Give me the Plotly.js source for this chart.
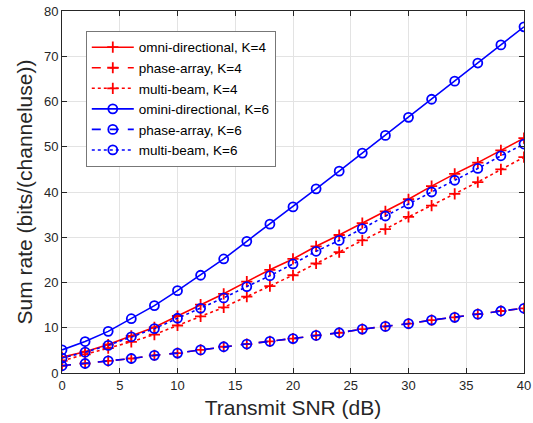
<!DOCTYPE html>
<html><head><meta charset="utf-8">
<script src="https://cdn.plot.ly/plotly-3.0.1.min.js"></script>
<style>html,body{margin:0;padding:0;background:#fff}#chart{width:533px;height:423px}</style>
</head><body><div id="chart"></div>
<script>
const snr = [0,2,4,6,8,10,12,14,16,18,20,22,24,26,28,30,32,34,36,38,40];
const omniK4 = [3.5,4.7,6.3,8.2,10.1,12.6,15.1,17.5,20.2,22.8,25.2,28.0,30.5,33.1,35.7,38.4,41.3,44.0,46.5,49.2,51.9];
const phaseK4 = [1.6,2.1,2.7,3.2,3.9,4.4,5.1,5.8,6.4,7.0,7.6,8.3,8.9,9.7,10.3,10.9,11.7,12.3,13.0,13.7,14.3];
const multiK4 = [2.7,4.1,5.5,6.9,8.5,10.5,12.5,14.5,16.9,19.2,21.6,24.2,26.7,29.3,31.8,34.5,37.0,39.6,42.2,45.0,47.7];
const omniK6 = [5.1,6.95,9.2,12.0,14.9,18.2,21.6,25.2,29.1,32.9,36.7,40.7,44.6,48.6,52.5,56.5,60.5,64.5,68.5,72.5,76.5];
const phaseK6 = [1.6,2.1,2.7,3.2,3.9,4.4,5.1,5.8,6.4,7.0,7.6,8.3,8.9,9.7,10.3,10.9,11.7,12.3,13.0,13.7,14.3];
const multiK6 = [3.3,4.6,6.1,8.0,9.8,12.1,14.3,16.6,19.1,21.5,24.1,26.9,29.3,31.9,34.7,37.4,40.0,42.6,45.2,48.0,50.6];
const names = ['omni-directional, K=4','phase-array, K=4','multi-beam, K=4','omini-directional, K=6','phase-array, K=6','multi-beam, K=6'];

const red = '#ff0000', blue = '#0000ff';
function tr(y, name, color, dash, sym){
  const circ = sym==='circle-open';
  return {x: snr, y: y, name: name, type:'scatter', mode:'lines+markers',
    line:{color:color, width:1.6, dash:dash},
    marker:{symbol:sym, size: circ?9:8, color:color, line:{color:color, width:1.8}}};
}
const data = [
  tr(omniK4, names[0], red, 'solid', 'cross-thin-open'),
  tr(phaseK4, names[1], red, 'dash', 'cross-thin-open'),
  tr(multiK4, names[2], red, 'dot', 'cross-thin-open'),
  tr(omniK6, names[3], blue, 'solid', 'circle-open'),
  tr(phaseK6, names[4], blue, 'dash', 'circle-open'),
  tr(multiK6, names[5], blue, 'dot', 'circle-open')
];
const axCommon = {showline:true, linecolor:'#262626', linewidth:1, mirror:'ticks', ticks:'inside', ticklen:5,
  tickcolor:'#262626', showgrid:true, gridcolor:'#e3e3e3', gridwidth:1, zeroline:false, ticklabeloverflow:'allow',
  tickfont:{family:'Liberation Sans, Arial, sans-serif', size:13, color:'#262626'}};
const layout = {
  width:533, height:423,
  margin:{l:62, r:9, t:11, b:50},
  paper_bgcolor:'#fff', plot_bgcolor:'#fff',
  font:{family:'Liberation Sans, Arial, sans-serif', color:'#262626'},
  xaxis: Object.assign({}, axCommon, {range:[0,40], dtick:5, tick0:0,
    title:{text:'Transmit SNR (dB)', font:{size:21, color:'#262626'}, standoff:8}}),
  yaxis: Object.assign({}, axCommon, {range:[0,80], dtick:10, tick0:0,
    title:{text:'Sum rate (bits/(channeluse))', font:{size:21, color:'#262626'}, standoff:5}}),
  showlegend:true,
  legend:{x:0.0515, y:0.945, xanchor:'left', yanchor:'top', bgcolor:'#fff', bordercolor:'#777', borderwidth:1,
    font:{size:13.5, color:'#000'}, tracegroupgap:0, itemwidth:42},
};
Plotly.newPlot('chart', data, layout, {displayModeBar:false, staticPlot:true});
</script></body></html>
